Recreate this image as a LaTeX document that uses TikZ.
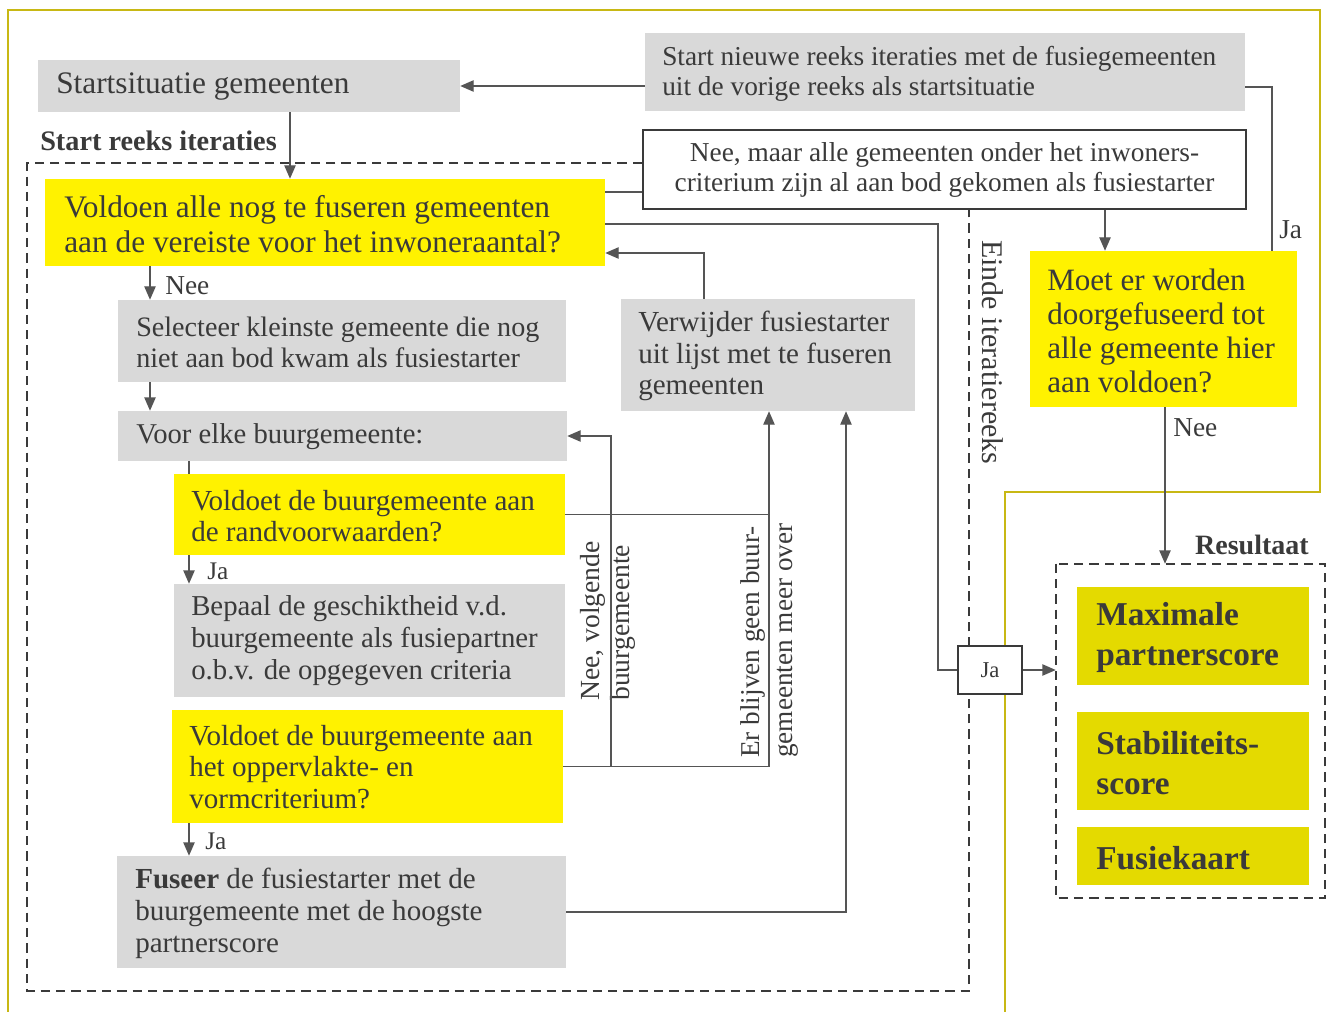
\documentclass[tikz,border=0pt]{standalone}
\usepackage{fontspec}
\setmainfont{Liberation Serif}
\usetikzlibrary{arrows.meta,fit}
\definecolor{framecol}{RGB}{200,184,20}
\definecolor{ylw}{RGB}{255,242,0}
\definecolor{gry}{RGB}{217,217,217}
\definecolor{resy}{RGB}{228,218,0}
\definecolor{txt}{RGB}{58,58,58}
\definecolor{ln}{RGB}{85,85,85}
\begin{document}
\begin{tikzpicture}[x=0.75pt,y=-0.75pt,
  box/.style={inner sep=0pt,draw=none},
  gbox/.style={box,fill=gry},
  ybox/.style={box,fill=ylw},
  rbox/.style={box,fill=resy},
  wbox/.style={box,fill=white,draw=txt,line width=1.5pt},
  lbl/.style={text=txt,inner sep=0pt,align=left,font=\fontsize{21.5}{23.5}\selectfont},
  res/.style={lbl,font=\fontsize{25}{30}\selectfont\bfseries},
  small/.style={lbl,font=\fontsize{20.5}{23}\selectfont},
  conn/.style={draw=ln,line width=0.9pt},
  arr/.style={conn,-{Triangle[length=10pt,width=8.5pt]}},
  frame/.style={draw=txt,line width=1.4pt,dash pattern=on 7pt off 4.5pt},
  border/.style={draw=framecol,line width=2pt}]
\useasboundingbox (0,0) rectangle (1330,1012);
% olive outer border
\draw[border] (8,1012) -- (8,10) -- (1320,10) -- (1320,492) -- (1005,492) -- (1005,1012);

% boxes
\node[gbox,fit={(38,60) (460,112)}] (ss) {};
\node[gbox,fit={(645,33) (1245,111)}] (sn) {};
\node[wbox,fit={(643,130) (1246,209)}] (nb) {};
\node[ybox,fit={(45,179) (605,266)}] (q1) {};
\node[gbox,fit={(118,300) (566,382)}] (sel) {};
\node[gbox,fit={(118,411) (567,461)}] (ve) {};
\node[ybox,fit={(174,474) (565,555)}] (q2) {};
\node[gbox,fit={(174,584) (565,697)}] (bep) {};
\node[ybox,fit={(172,710) (563,823)}] (q3) {};
\node[gbox,fit={(117,856) (566,968)}] (fus) {};
\node[gbox,fit={(621,299) (915,411)}] (ver) {};
\node[ybox,fit={(1030,251) (1297,407)}] (moet) {};
\node[rbox,fit={(1077,587) (1309,685)}] (r1) {};
\node[rbox,fit={(1077,712) (1309,810)}] (r2) {};
\node[rbox,fit={(1077,827) (1309,885)}] (r3) {};
\node[box,fit={(1056,564) (1325,898)}] (res) {};
\draw[frame] (res.north west) rectangle (res.south east);

% iteration frame
\coordinate (fTL) at (27,163);
\coordinate (fBR) at (969,991);
\draw[frame] (nb.west |- fTL) -- (fTL) |- (fBR) -- (fBR |- nb.south);

% texts
\node[lbl,anchor=west,font=\fontsize{23.5}{26}\selectfont] (ss-t) at (56,87) {Startsituatie gemeenten};
\node[lbl,anchor=west,font=\fontsize{20.5}{22.5}\selectfont] (sn-t) at (662,74) {Start nieuwe reeks iteraties met de fusiegemeenten\\uit de vorige reeks als startsituatie};
\node[lbl,align=center,font=\fontsize{20.5}{22.5}\selectfont] (nb-t) at (nb.center) {Nee, maar alle gemeenten onder het inwoners-\\criterium zijn al aan bod gekomen als fusiestarter};
\node[lbl,anchor=west,font=\fontsize{21.2}{24}\selectfont\bfseries] (sri) at (40,141) {Start reeks iteraties};
\node[lbl,anchor=west,font=\fontsize{23.5}{26.25}\selectfont] (q1-t) at (64,224) {Voldoen alle nog te fuseren gemeenten\\aan de vereiste voor het inwoneraantal?};
\node[lbl,anchor=west,font=\fontsize{21.1}{23.25}\selectfont] (sel-t) at (136,342) {Selecteer kleinste gemeente die nog\\niet aan bod kwam als fusiestarter};
\node[lbl,anchor=west] (ve-t) at (136,437) {Voor elke buurgemeente:};
\node[lbl,anchor=west,font=\fontsize{21.8}{23.25}\selectfont] (q2-t) at (191,516) {Voldoet de buurgemeente aan\\de randvoorwaarden?};
\node[lbl,anchor=west,font=\fontsize{21.6}{24}\selectfont] (bep-t) at (191,641) {Bepaal de geschiktheid v.d.\\buurgemeente als fusiepartner\\o.b.v. de opgegeven criteria};
\node[lbl,anchor=west,font=\fontsize{21.8}{23.5}\selectfont] (q3-t) at (189,767) {Voldoet de buurgemeente aan\\het oppervlakte- en\\vormcriterium?};
\node[lbl,anchor=west,font=\fontsize{21.8}{24}\selectfont] (fus-t) at (135,913) {\textbf{Fuseer} de fusiestarter met de\\buurgemeente met de hoogste\\partnerscore};
\node[lbl,anchor=west,font=\fontsize{21.8}{23.5}\selectfont] (ver-t) at (638,356) {Verwijder fusiestarter\\uit lijst met te fuseren\\gemeenten};
\node[lbl,anchor=west,font=\fontsize{23.3}{25.7}\selectfont] (moet-t) at (1047,331) {Moet er worden\\doorgefuseerd tot\\alle gemeente hier\\aan voldoen?};
\node[res,anchor=west] (r1-t) at (1096,637) {Maximale\\partnerscore};
\node[res,anchor=west] (r2-t) at (1096,763) {Stabiliteits-\\score};
\node[res,anchor=west] (r3-t) at (1096,858) {Fusiekaart};
\node[lbl,anchor=east,font=\fontsize{21}{24}\selectfont\bfseries] (res-t) at (1309,545) {Resultaat};
\node[lbl,anchor=west,rotate=-90,font=\fontsize{22.5}{24}\selectfont] (einde) at (993,240) {Einde iteratiereeks};
\node[lbl,anchor=west,rotate=90,font=\fontsize{20.7}{22.5}\selectfont] (nvb) at (608,701) {Nee, volgende\\buurgemeente};
\node[lbl,anchor=west,rotate=90,font=\fontsize{20.4}{24.75}\selectfont] (ebg) at (769,758) {Er blijven geen buur-\\gemeenten meer over};

% routing coordinates
\coordinate (pJa) at (1272,87);
\coordinate (pA) at (290,140);
\coordinate (pB) at (620,192);
\coordinate (pC) at (938,224);
\coordinate (pD) at (704,253);
\coordinate (pE) at (1105,230);
\coordinate (pF) at (1165,480);
\coordinate (pG) at (150,280);
\coordinate (pH) at (189,520);
\coordinate (pI) at (846,600);
\coordinate (pK) at (769,600);
\coordinate (pL) at (611,600);

% connectors
\draw[arr] (sn.west |- ss.east) -- (ss.east);
\draw[conn] (moet.north -| pJa) -- (pJa) -- (sn.east |- pJa);
\node[small,anchor=west] (ja1) at (1279,230) {Ja};
\draw[arr] (ss.south -| pA) -- (q1.north -| pA);
\draw[conn] (q1.east |- pB) -- (nb.west |- pB);
\node[wbox,minimum width=48pt,minimum height=36pt,line width=1.4pt,font=\fontsize{17}{19}\selectfont,text=txt] (jab) at (990,670) {Ja};
\draw[conn] (q1.east |- pC) -- (pC) -- (pC |- jab.west) -- (jab.west);
\draw[arr] (jab.east) -- (res.west |- jab.east);
\draw[arr] (ver.north -| pD) -- (pD) -- (q1.east |- pD);
\draw[arr] (nb.south -| pE) -- (moet.north -| pE);
\draw[arr] (moet.south -| pF) -- (res.north -| pF);
\node[small,anchor=west] (nee2) at (1173,428) {Nee};
\draw[arr] (q1.south -| pG) -- (sel.north -| pG);
\node[small,anchor=west] (nee1) at (165,286) {Nee};
\draw[arr] (sel.south -| pG) -- (ve.north -| pG);
\draw[conn] (ve.south -| pH) -- (q2.north -| pH);
\draw[arr] (q2.south -| pH) -- (bep.north -| pH);
\node[small,anchor=west,font=\fontsize{19}{21}\selectfont] (ja2) at (207,571) {Ja};
\draw[arr] (q3.south -| pH) -- (fus.north -| pH);
\node[small,anchor=west,font=\fontsize{19}{21}\selectfont] (ja3) at (205,841) {Ja};
\draw[arr] (fus.east) -- (fus.east -| pI) -- (ver.south -| pI);
\draw[conn] (q2.east) -- (q2.east -| pK);
\draw[arr] (q3.east) -- (q3.east -| pK) -- (ver.south -| pK);
\draw[arr] (q3.east -| pL) -- (pL |- ve.east) -- (ve.east);
\end{tikzpicture}
\end{document}
